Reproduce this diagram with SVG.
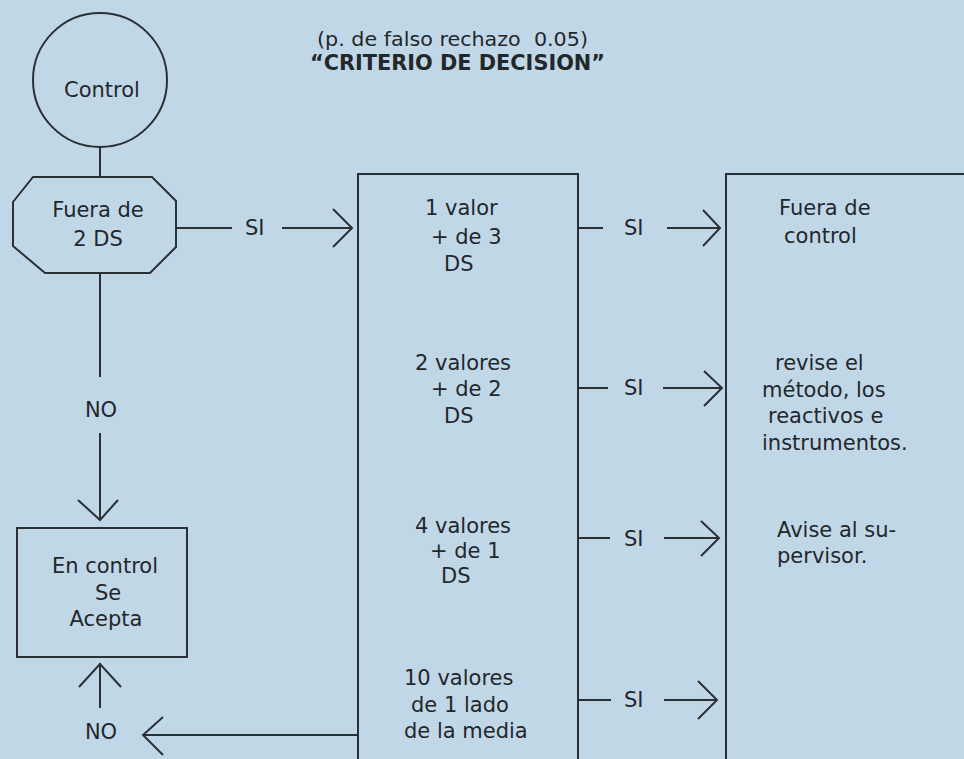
<svg xmlns="http://www.w3.org/2000/svg" width="964" height="759" viewBox="0 0 964 759">
<style>
  .bg { fill: #c0d7e8; }
  .shape { fill: none; stroke: #2b3035; stroke-width: 2; }
  .con { fill: none; stroke: #2b3035; stroke-width: 2; stroke-linecap: butt; }
  text { font-family: "DejaVu Sans", "Liberation Sans", sans-serif; font-size: 21px; fill: #24272a; }
  .title { font-size: 20px; }
  .bold { font-weight: bold; font-size: 20.5px; }
  .c { text-anchor: middle; }
</style>
<rect class="bg" x="0" y="0" width="964" height="759"/>

<g id="title">
  <text class="title" x="317" y="46" textLength="271" lengthAdjust="spacingAndGlyphs" xml:space="preserve">(p. de falso rechazo  0.05)</text>
  <text class="bold" x="310" y="70" textLength="295" lengthAdjust="spacingAndGlyphs">“CRITERIO DE DECISION”</text>
</g>

<g id="node-control">
  <circle class="shape" cx="100" cy="80" r="67"/>
  <text class="c" x="102" y="97">Control</text>
</g>

<g id="node-fuera-2ds">
  <polygon class="shape" points="33,177 152,177 176,201 176,247 150,273 45,273 13,246 13,202"/>
  <text class="c" x="98" y="217">Fuera de</text>
  <text class="c" x="98" y="246">2 DS</text>
</g>

<g id="node-criterios">
  <path class="shape" d="M358,770 V174 H578 V770"/>
  <text x="425" y="215">1 valor</text>
  <text x="431" y="244">+ de 3</text>
  <text x="444" y="271">DS</text>
  <text x="415" y="370">2 valores</text>
  <text x="431" y="396">+ de 2</text>
  <text x="444" y="423">DS</text>
  <text x="415" y="533">4 valores</text>
  <text x="430" y="558">+ de 1</text>
  <text x="441" y="583">DS</text>
  <text x="404" y="685">10 valores</text>
  <text x="411" y="712">de 1 lado</text>
  <text x="404" y="738">de la media</text>
</g>

<g id="node-acciones">
  <path class="shape" d="M726,770 V174 H970"/>
  <text x="779" y="215">Fuera de</text>
  <text x="784" y="243">control</text>
  <text x="775" y="370">revise el</text>
  <text x="762" y="397">método, los</text>
  <text x="768" y="423">reactivos e</text>
  <text x="762" y="450">instrumentos.</text>
  <text x="777" y="537">Avise al su-</text>
  <text x="777" y="563">pervisor.</text>
</g>

<g id="node-en-control">
  <rect class="shape" x="17" y="528" width="170" height="129"/>
  <text class="c" x="105" y="573">En control</text>
  <text class="c" x="108" y="600">Se</text>
  <text class="c" x="106" y="626">Acepta</text>
</g>

<g id="connectors">
  <line class="con" x1="100" y1="146" x2="100" y2="177"/>
  <line class="con" x1="176" y1="228" x2="232" y2="228"/>
  <text x="245" y="235">SI</text>
  <line class="con" x1="282" y1="228" x2="352" y2="228"/>
  <polyline class="con" points="333,209 352,228 333,247"/>

  <line class="con" x1="578" y1="228" x2="603" y2="228"/>
  <text x="624" y="235">SI</text>
  <line class="con" x1="667" y1="228" x2="720" y2="228"/>
  <polyline class="con" points="703,210 720,228 703,246"/>

  <line class="con" x1="578" y1="388" x2="608" y2="388"/>
  <text x="624" y="395">SI</text>
  <line class="con" x1="663" y1="388" x2="722" y2="388"/>
  <polyline class="con" points="704,371 722,388 704,406"/>

  <line class="con" x1="578" y1="538" x2="610" y2="538"/>
  <text x="624" y="546">SI</text>
  <line class="con" x1="664" y1="538" x2="719" y2="538"/>
  <polyline class="con" points="701,521 719,538 701,556"/>

  <line class="con" x1="578" y1="700" x2="611" y2="700"/>
  <text x="624" y="707">SI</text>
  <line class="con" x1="664" y1="700" x2="717" y2="700"/>
  <polyline class="con" points="698,681 717,700 698,719"/>

  <line class="con" x1="100" y1="273" x2="100" y2="377"/>
  <text class="c" x="101" y="417">NO</text>
  <line class="con" x1="100" y1="433" x2="100" y2="520"/>
  <polyline class="con" points="78,500 100,520 118,500"/>

  <line class="con" x1="358" y1="735" x2="143" y2="735"/>
  <polyline class="con" points="163,717 143,735 163,755"/>
  <text class="c" x="101" y="739">NO</text>
  <line class="con" x1="100" y1="708" x2="100" y2="663"/>
  <polyline class="con" points="79,687 100,664 121,687"/>
</g>
</svg>
